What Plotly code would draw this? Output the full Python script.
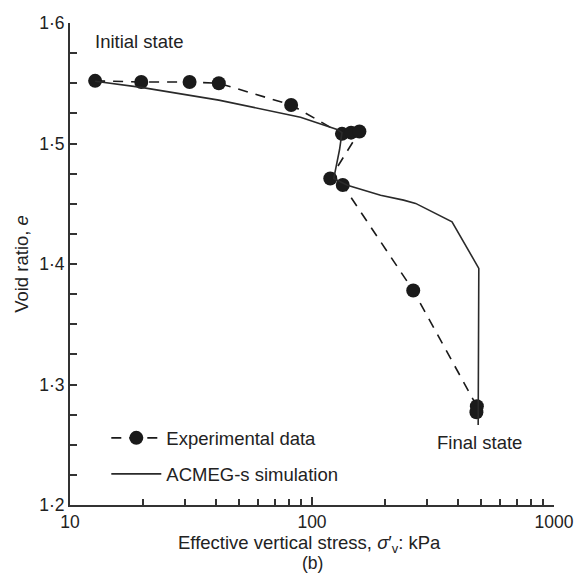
import plotly.graph_objects as go

# Oedometer test: void ratio versus effective vertical stress (log scale)
exp_stress = [12.7, 19.7, 31.2, 41.2, 82, 133, 145, 157, 119, 134, 262, 480, 478]
exp_void = [1.552, 1.551, 1.551, 1.550, 1.532, 1.508, 1.509, 1.510, 1.471, 1.4655, 1.378, 1.282, 1.277]

sim_stress = [12.7, 19.7, 41.2, 89.6, 127, 133, 130, 123, 140, 192, 239, 268, 379, 489, 486]
sim_void = [1.5517, 1.5466, 1.536, 1.5218, 1.5116, 1.509, 1.495, 1.471, 1.4654, 1.457, 1.453, 1.4503, 1.435, 1.3964, 1.2664]

y_ticks = [1.2, 1.3, 1.4, 1.5, 1.6]
y_tick_text = ["1·2", "1·3", "1·4", "1·5", "1·6"]
x_ticks = [10, 100, 1000]
x_tick_text = ["10", "100", "1000"]
x_minor = [20, 30, 40, 50, 60, 70, 80, 90, 200, 300, 400, 500, 600, 700, 800, 900]

INK = "#1a1a1a"
FONT = "Liberation Sans, Arial, sans-serif"
FS = 18.5
TICK_FS = 17.5

fig = go.Figure()
fig.add_trace(go.Scatter(
    x=exp_stress, y=exp_void, mode="lines+markers", name="Experimental data",
    legendgroup="exp",
    line=dict(color=INK, width=1.6, dash="10px,8px"),
    marker=dict(color=INK, size=14, symbol="circle"),
))
fig.add_trace(go.Scatter(
    x=sim_stress, y=sim_void, mode="lines", name="ACMEG-s simulation",
    legendgroup="sim",
    line=dict(color="#2a2a2a", width=1.6),
))

def label(text, x, y, anchor="center", size=FS):
    fig.add_annotation(x=x, y=y, xref="paper", yref="paper", text=text,
                       showarrow=False, xanchor=anchor, yanchor="middle",
                       font=dict(size=size, color="#222", family=FONT))

label("Initial state", 0.0485, 0.961, "left")
label("Final state", 0.847, 0.129)
# x-axis title and panel tag below the axis
label("Effective vertical stress, <i>σ</i>′<sub>v</sub>: kPa", 0.494, -0.080)
label("(b)", 0.5, -0.121, size=17.5)

fig.update_layout(
    width=574, height=574,
    margin=dict(l=70, r=20, t=23, b=69),
    paper_bgcolor="white", plot_bgcolor="white",
    font=dict(family=FONT, size=FS, color="#222"),
    showlegend=True,
    legend=dict(x=0.075, y=0.101, xanchor="left", yanchor="middle",
                bgcolor="rgba(0,0,0,0)", font=dict(size=FS, family=FONT),
                itemwidth=50, tracegroupgap=9),
    xaxis=dict(
        type="log", range=[1, 3], automargin=False,
        tickvals=x_ticks, ticktext=x_tick_text, ticklabeloverflow="allow",
        tickfont=dict(size=TICK_FS),
        ticks="inside", ticklen=8, tickwidth=1.5, tickcolor="#333",
        showline=True, linecolor="#333", linewidth=2,
        showgrid=False, zeroline=False, mirror=False,
        minor=dict(tickvals=x_minor, ticks="inside", ticklen=6, tickwidth=1.5,
                   tickcolor="#333", showgrid=False),
    ),
    yaxis=dict(
        range=[1.2, 1.6], automargin=False,
        tickvals=y_ticks, ticktext=y_tick_text, ticklabeloverflow="allow",
        tickfont=dict(size=TICK_FS),
        ticks="inside", ticklen=7, tickwidth=1.5, tickcolor="#333",
        showline=True, linecolor="#333", linewidth=2,
        showgrid=False, zeroline=False, mirror=False,
        minor=dict(ticks="inside", ticklen=7, tickwidth=1.5, tickcolor="#333",
                   dtick=0.025, tick0=1.2, showgrid=False),
        title=dict(text="Void ratio, <i>e</i>", standoff=6, font=dict(size=FS)),
    ),
)

fig.write_html("out.html")
